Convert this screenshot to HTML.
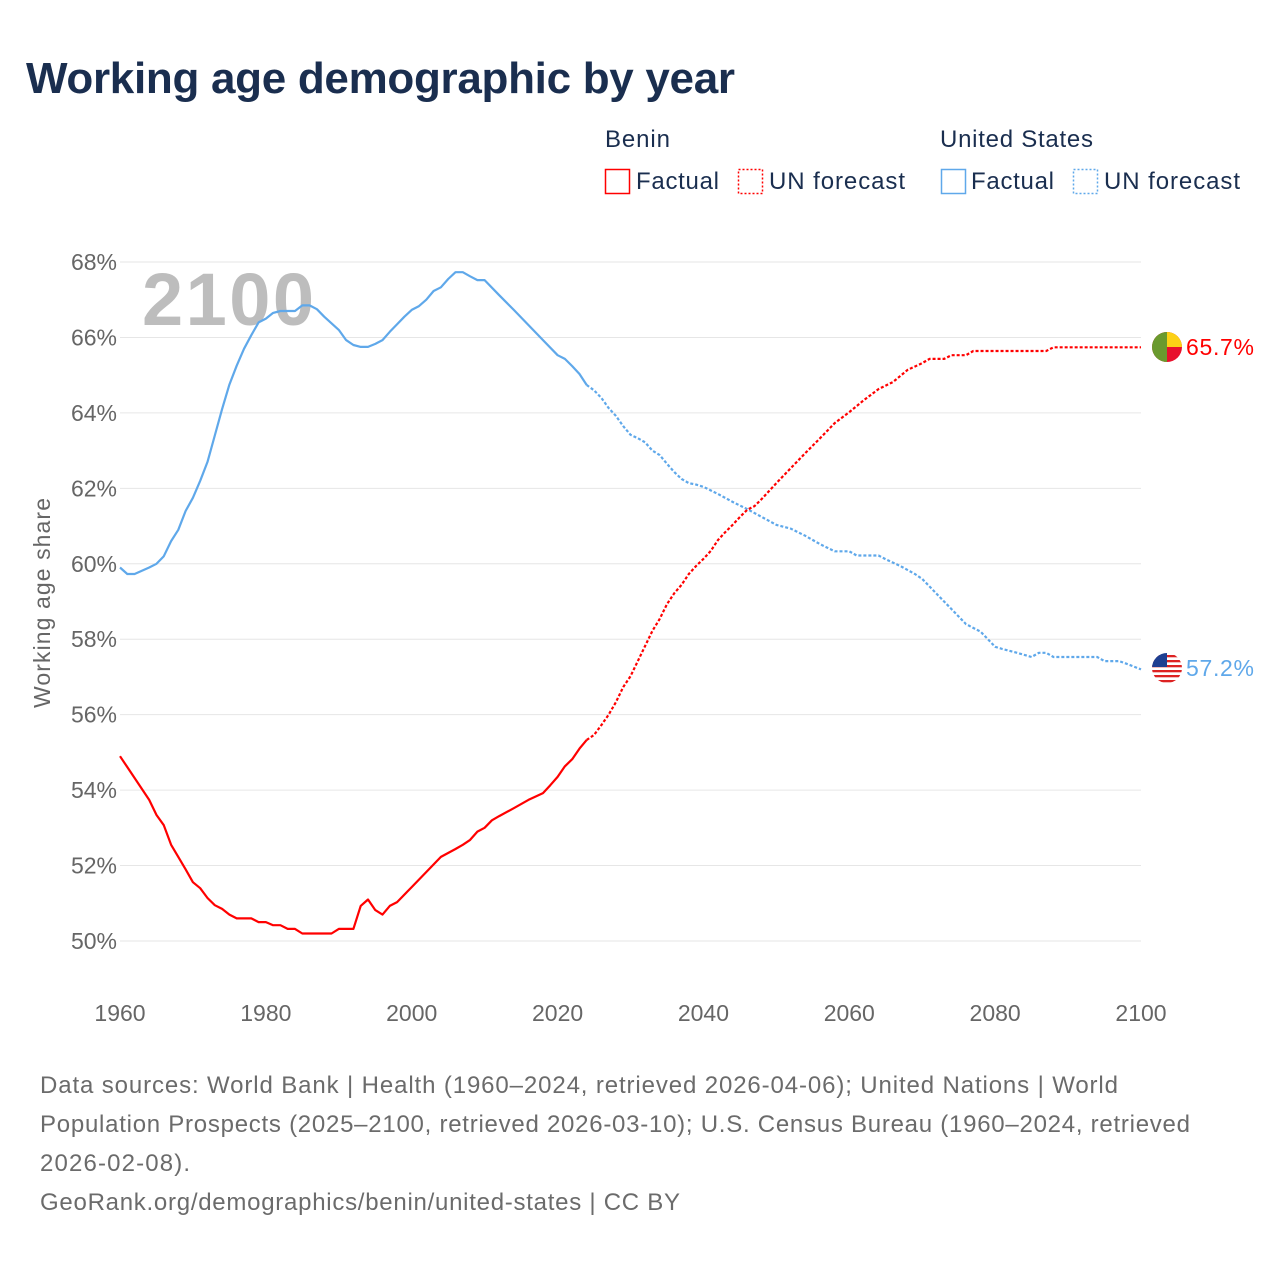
<!DOCTYPE html>
<html><head><meta charset="utf-8"><style>
body{margin:0;background:#fff;width:1280px;height:1280px;overflow:hidden;font-family:"Liberation Sans",sans-serif}
</style></head><body>
<svg width="1280" height="1280" font-family="Liberation Sans, sans-serif">
<text x="26" y="93" font-size="44" font-weight="bold" fill="#1a2e4f" textLength="709">Working age demographic by year</text>
<g font-size="24" fill="#1a2e4f">
<text x="605" y="147" textLength="65">Benin</text>
<rect x="605.5" y="169.5" width="24" height="24" fill="none" stroke="#f00" stroke-width="1.5"/>
<text x="636" y="189" textLength="83">Factual</text>
<rect x="738.5" y="169.5" width="24" height="24" fill="none" stroke="#f00" stroke-width="1.5" stroke-dasharray="2,2"/>
<text x="769" y="189" textLength="136">UN forecast</text>
<text x="940" y="147" textLength="153">United States</text>
<rect x="941.5" y="169.5" width="24" height="24" fill="none" stroke="#5fa8ea" stroke-width="1.5"/>
<text x="971" y="189" textLength="83">Factual</text>
<rect x="1073.5" y="169.5" width="24" height="24" fill="none" stroke="#5fa8ea" stroke-width="1.5" stroke-dasharray="2,2"/>
<text x="1104" y="189" textLength="136">UN forecast</text>
</g>
<g id="grid"></g>
<text x="142" y="325" font-size="74" font-weight="bold" fill="#bdbdbd" textLength="172">2100</text>
<g id="lines"></g>
<text transform="translate(50,603) rotate(-90)" text-anchor="middle" font-size="23" fill="#666" textLength="210">Working age share</text>
<g>
<clipPath id="cb"><circle cx="1167" cy="347" r="15"/></clipPath>
<g clip-path="url(#cb)"><rect x="1152" y="332" width="30" height="30" fill="#e8112d"/><rect x="1167" y="332" width="15" height="15" fill="#fcd116"/><rect x="1152" y="332" width="15" height="30" fill="#6a9a2e"/></g>
</g>
<g>
<clipPath id="cu"><circle cx="1167" cy="668" r="15"/></clipPath>
<g clip-path="url(#cu)"><rect x="1152" y="653" width="30" height="30" fill="#fff"/>
<rect x="1152" y="655" width="30" height="2.3" fill="#d22"/><rect x="1152" y="660" width="30" height="2.3" fill="#d22"/><rect x="1152" y="665" width="30" height="2.3" fill="#d22"/><rect x="1152" y="670" width="30" height="2.3" fill="#d22"/><rect x="1152" y="675" width="30" height="2.3" fill="#d22"/><rect x="1152" y="680" width="30" height="2.3" fill="#d22"/>
<rect x="1152" y="653" width="15" height="14" fill="#1e3f91"/></g>
</g>
<text x="1186" y="355" font-size="23" fill="#f00" textLength="68">65.7%</text>
<text x="1186" y="676" font-size="23" fill="#5fa8ea" textLength="68">57.2%</text>
<g font-size="24" fill="#6b6b6b">
<text x="40" y="1093" textLength="1078">Data sources: World Bank | Health (1960–2024, retrieved 2026-04-06); United Nations | World</text>
<text x="40" y="1132" textLength="1150">Population Prospects (2025–2100, retrieved 2026-03-10); U.S. Census Bureau (1960–2024, retrieved</text>
<text x="40" y="1171" textLength="150">2026-02-08).</text>
<text x="40" y="1210" textLength="640">GeoRank.org/demographics/benin/united-states | CC BY</text>
</g>
</svg>
<script>
const yTicks=[50,52,54,56,58,60,62,64,66,68];
const xTicks=[1960,1980,2000,2020,2040,2060,2080,2100];
const usYears=[1960,1961,1962,1964,1965,1966,1967,1968,1969,1970,1971,1972,1973,1974,1975,1976,1977,1978,1979,1980,1981,1982,1983,1984,1985,1986,1987,1988,1990,1991,1992,1993,1994,1995,1996,1997,1998,1999,2000,2001,2002,2003,2004,2005,2006,2007,2008,2009,2010,2012,2014,2016,2018,2020,2021,2022,2023,2024,2025,2026,2027,2028,2029,2030,2031,2032,2033,2034,2035,2036,2037,2038,2039,2040,2042,2044,2046,2048,2050,2052,2054,2056,2058,2060,2061,2062,2064,2065,2067,2069,2070,2072,2074,2076,2078,2079,2080,2081,2083,2085,2086,2087,2088,2090,2094,2095,2097,2098,2100];
const usValues=[59.9,59.73,59.73,59.9,60.0,60.2,60.6,60.9,61.4,61.75,62.2,62.7,63.4,64.1,64.75,65.25,65.7,66.06,66.4,66.5,66.65,66.7,66.7,66.7,66.85,66.85,66.75,66.55,66.2,65.93,65.8,65.75,65.75,65.83,65.93,66.15,66.35,66.55,66.73,66.83,67.0,67.23,67.33,67.55,67.73,67.73,67.62,67.52,67.52,67.12,66.73,66.33,65.93,65.53,65.43,65.24,65.03,64.74,64.6,64.4,64.13,63.92,63.65,63.42,63.33,63.22,63.0,62.88,62.65,62.43,62.25,62.14,62.1,62.04,61.85,61.64,61.45,61.24,61.03,60.93,60.74,60.52,60.33,60.33,60.22,60.22,60.22,60.12,59.94,59.73,59.6,59.2,58.8,58.4,58.2,58.0,57.8,57.74,57.64,57.53,57.64,57.64,57.53,57.53,57.53,57.42,57.42,57.35,57.2];
const bjYears=[1960,1962,1964,1965,1966,1967,1968,1969,1970,1971,1972,1973,1974,1975,1976,1977,1978,1979,1980,1981,1982,1983,1984,1985,1989,1990,1992,1993,1994,1995,1996,1997,1998,2000,2002,2004,2006,2007,2008,2009,2010,2011,2012,2014,2016,2018,2019,2020,2021,2022,2023,2024,2025,2026,2027,2028,2029,2030,2031,2032,2033,2034,2035,2036,2037,2038,2039,2040,2041,2042,2043,2044,2045,2046,2047,2048,2049,2050,2052,2054,2056,2058,2060,2062,2064,2066,2068,2070,2071,2073,2074,2076,2077,2087,2088,2100];
const bjValues=[54.9,54.32,53.74,53.34,53.07,52.55,52.23,51.9,51.56,51.4,51.14,50.95,50.85,50.7,50.6,50.6,50.6,50.5,50.5,50.42,50.42,50.32,50.32,50.2,50.2,50.32,50.32,50.93,51.1,50.82,50.7,50.93,51.03,51.43,51.83,52.23,52.44,52.55,52.68,52.9,53.0,53.2,53.31,53.52,53.74,53.92,54.13,54.35,54.63,54.82,55.1,55.33,55.46,55.72,56.0,56.33,56.73,57.02,57.42,57.82,58.22,58.54,58.93,59.22,59.44,59.73,59.94,60.13,60.34,60.63,60.84,61.03,61.24,61.43,61.53,61.72,61.93,62.14,62.54,62.94,63.33,63.73,64.02,64.34,64.63,64.82,65.14,65.32,65.43,65.43,65.53,65.53,65.64,65.64,65.74,65.74];
const lastFactual=2024;
const X=y=>120+(y-1960)*(1141-120)/140;
const Y=v=>941-(v-50)*(941-262)/18;
const NS="http://www.w3.org/2000/svg";
const grid=document.getElementById('grid'), lines=document.getElementById('lines');
yTicks.forEach(t=>{
 const l=document.createElementNS(NS,'line');
 
 
 l.setAttribute('x1',120);l.setAttribute('x2',1141);l.setAttribute('y1',Y(t));l.setAttribute('y2',Y(t));
 l.setAttribute('stroke','#e6e6e6');l.setAttribute('stroke-width','1');grid.appendChild(l);
 const tx=document.createElementNS(NS,'text');
 
 
 tx.setAttribute('x',117);tx.setAttribute('y',Y(t)+8);tx.setAttribute('text-anchor','end');
 tx.setAttribute('font-size','23');tx.setAttribute('fill','#666');tx.textContent=t+'%';grid.appendChild(tx);
});
xTicks.forEach(t=>{
 const tx=document.createElementNS(NS,'text');
 
 
 tx.setAttribute('x',X(t));tx.setAttribute('y',1021);tx.setAttribute('text-anchor','middle');
 tx.setAttribute('font-size','23');tx.setAttribute('fill','#666');tx.textContent=t;grid.appendChild(tx);
});
function draw(years,vals,color,name){
 const f=[],p=[];
 years.forEach((yr,i)=>{const pt=X(yr).toFixed(1)+','+Y(vals[i]).toFixed(1);if(yr<=lastFactual)f.push(pt);if(yr>=lastFactual)p.push(pt);});
 [[f,'',name+'-factual-line'],[p,'3,2',name+'-forecast-line']].forEach(([pts,d,n])=>{
  const pl=document.createElementNS(NS,'polyline');
  
  
  pl.setAttribute('points',pts.join(' '));pl.setAttribute('fill','none');pl.setAttribute('stroke',color);
  pl.setAttribute('stroke-width','2.2');pl.setAttribute('stroke-linejoin','round');if(d)pl.setAttribute('stroke-dasharray',d);
  lines.appendChild(pl);
 });
}
draw(usYears,usValues,'#5fa8ea','us');
draw(bjYears,bjValues,'#ff0000','benin');
</script>
</body></html>
